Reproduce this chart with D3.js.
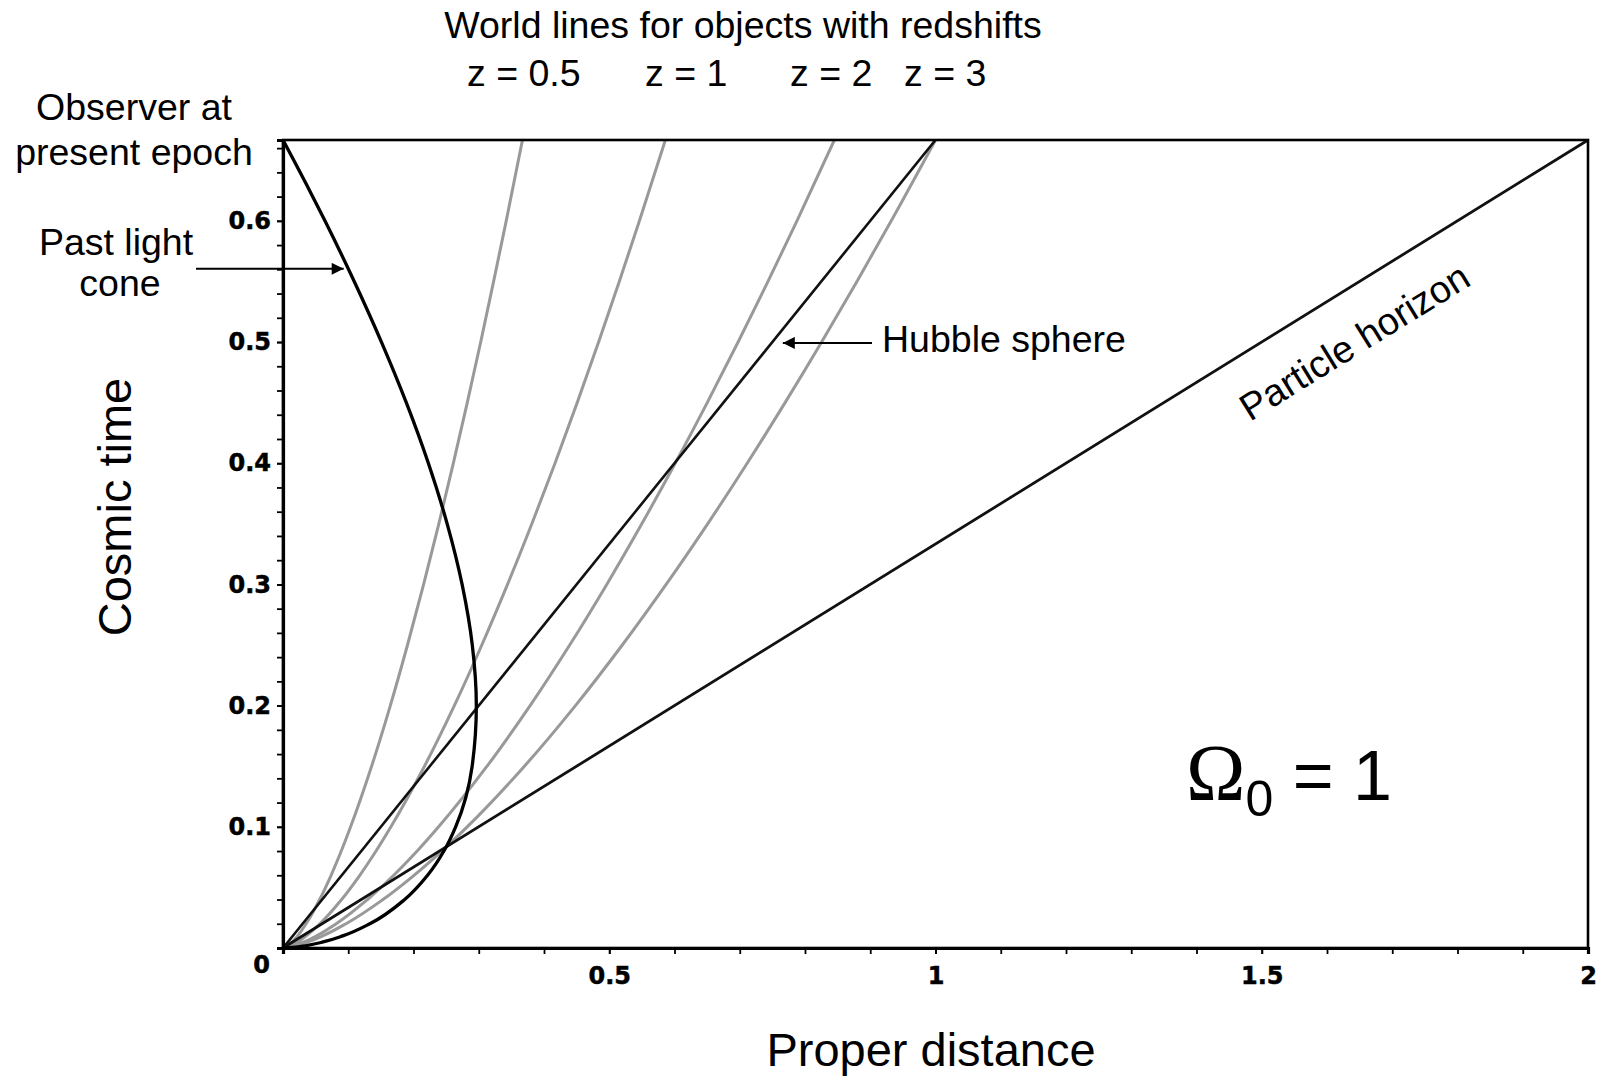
<!DOCTYPE html>
<html>
<head>
<meta charset="utf-8">
<script src="https://cdn.jsdelivr.net/npm/d3@7"></script>
<style>
  body { margin: 0; background: #fff; }
  text { font-family: "Liberation Sans", Arial, sans-serif; fill: #000; }
</style>
</head>
<body>
<div id="chart"></div>
<script>
// cosmic time samples (units of 1/H0) and proper distances
const timeGrid = [0, 0.005, 0.01, 0.02, 0.04, 0.06, 0.08, 0.1, 0.15, 0.2, 0.25, 0.3, 0.35, 0.4, 0.45, 0.5, 0.55, 0.6, 0.6667];
const distZ05 = [0, 0.0141, 0.0223, 0.0354, 0.0562, 0.0737, 0.0893, 0.1036, 0.1358, 0.1645, 0.1908, 0.2155, 0.2388, 0.2611, 0.2824, 0.303, 0.3228, 0.3421, 0.367];
const distZ1 = [0, 0.0224, 0.0356, 0.0565, 0.0898, 0.1177, 0.1426, 0.1654, 0.2168, 0.2626, 0.3047, 0.3441, 0.3814, 0.4169, 0.4509, 0.4837, 0.5154, 0.5463, 0.586];
const distZ2 = [0, 0.0324, 0.0514, 0.0815, 0.1295, 0.1697, 0.2056, 0.2385, 0.3127, 0.3787, 0.4394, 0.4962, 0.5499, 0.6011, 0.6502, 0.6975, 0.7433, 0.7877, 0.845];
const distZ3 = [0, 0.0383, 0.0608, 0.0965, 0.1532, 0.2008, 0.2433, 0.2823, 0.37, 0.4482, 0.52, 0.5872, 0.6508, 0.7114, 0.7695, 0.8255, 0.8796, 0.9322, 1];

const coneTime = [0, 0.001, 0.002, 0.005, 0.01, 0.02, 0.04, 0.06, 0.08, 0.1, 0.15, 0.2, 0.25, 0.3, 0.35, 0.4, 0.45, 0.5, 0.55, 0.6, 0.63, 0.65, 0.6667];
const coneDist = [0, 0.0232, 0.0356, 0.0616, 0.0916, 0.1331, 0.1865, 0.2216, 0.2466, 0.2646, 0.2899, 0.2963, 0.2901, 0.2745, 0.2516, 0.2228, 0.189, 0.1509, 0.1092, 0.0643, 0.036, 0.0165, 0];

const lineTime = [0, 0.6667];
const hubbleDist = [0, 1];
const horizonDist = [0, 2];

const redshiftLabels = ["z = 0.5", "z = 1", "z = 2", "z = 3"];
const xTickValues = [0.5, 1, 1.5, 2];
const yTickValues = [0.1, 0.2, 0.3, 0.4, 0.5, 0.6];

const W = 1599, H = 1077;
const plot = { left: 283, right: 1588, top: 140, bottom: 948 };
const tickFont = "'DejaVu Sans', Verdana, sans-serif";

const x = d3.scaleLinear().domain([0, 2]).range([plot.left, plot.right]);
const y = d3.scaleLinear().domain([0, 0.6667]).range([plot.bottom, plot.top]);

const svg = d3.select("#chart").append("svg")
  .attr("width", W).attr("height", H);

svg.append("defs").append("marker")
  .attr("id", "head")
  .attr("viewBox", "0 0 10 10")
  .attr("refX", 10).attr("refY", 5)
  .attr("markerUnits", "userSpaceOnUse")
  .attr("markerWidth", 16).attr("markerHeight", 12)
  .attr("orient", "auto")
  .append("path").attr("d", "M0,0L10,5L0,10Z").attr("fill", "#000");

svg.append("clipPath").attr("id", "clip")
  .append("rect")
  .attr("x", plot.left).attr("y", plot.top)
  .attr("width", plot.right - plot.left).attr("height", plot.bottom - plot.top);

const line = d3.line()
  .x(d => x(d[0]))
  .y(d => y(d[1]))
  .curve(d3.curveMonotoneY);

const zip = (ds, ts) => ds.map((d, i) => [d, ts[i]]);

const marks = svg.append("g").attr("clip-path", "url(#clip)");

// grey world lines
[distZ05, distZ1, distZ2, distZ3].forEach(ds => {
  marks.append("path")
    .attr("d", line(zip(ds, timeGrid)))
    .attr("fill", "none")
    .attr("stroke", "#999")
    .attr("stroke-width", 3);
});

// hubble sphere and particle horizon
marks.append("path")
  .attr("d", line(zip(hubbleDist, lineTime)))
  .attr("fill", "none").attr("stroke", "#111").attr("stroke-width", 2.6);
marks.append("path")
  .attr("d", line(zip(horizonDist, lineTime)))
  .attr("fill", "none").attr("stroke", "#111").attr("stroke-width", 2.8);

// past light cone
marks.append("path")
  .attr("d", line(zip(coneDist, coneTime)))
  .attr("fill", "none").attr("stroke", "#000").attr("stroke-width", 3.3);

// frame
svg.append("rect")
  .attr("x", plot.left).attr("y", plot.top)
  .attr("width", plot.right - plot.left).attr("height", plot.bottom - plot.top)
  .attr("fill", "none").attr("stroke", "#000").attr("stroke-width", 2.6);

// axes
const xMinor = d3.axisBottom(x).tickValues(d3.range(0, 2.001, 0.1)).tickSize(6).tickFormat("");
const yMinor = d3.axisLeft(y).tickValues(d3.range(0, 0.661, 0.02)).tickSize(6).tickFormat("");
svg.append("g").attr("transform", `translate(0,${plot.bottom})`).call(xMinor)
  .call(g => g.select(".domain").attr("stroke-width", 3.2));
svg.append("g").attr("transform", `translate(${plot.left},0)`).call(yMinor)
  .call(g => g.select(".domain").attr("stroke-width", 3.2));
svg.selectAll(".tick line").attr("stroke-width", 1.8);

const xAxis = d3.axisBottom(x).tickValues(xTickValues).tickSize(6).tickPadding(13).tickFormat(d3.format("~g"));
const yAxis = d3.axisLeft(y).tickValues(yTickValues).tickSize(6).tickPadding(6).tickFormat(d3.format("~g"));
const gx = svg.append("g").attr("transform", `translate(0,${plot.bottom})`).call(xAxis);
const gy = svg.append("g").attr("transform", `translate(${plot.left},0)`).call(yAxis);
[gx, gy].forEach(g => {
  g.select(".domain").remove();
  g.selectAll(".tick line").attr("stroke-width", 1.8);
  g.selectAll("text")
    .style("font-family", tickFont)
    .attr("font-size", 24).attr("font-weight", "bold").attr("fill", "#000")
    .attr("stroke", "#000").attr("stroke-width", 0.5);
});

svg.append("text")
  .attr("x", x(0) - 13).attr("y", y(0) + 25)
  .attr("text-anchor", "end")
  .style("font-family", tickFont)
  .attr("font-size", 24).attr("font-weight", "bold")
  .attr("stroke", "#000").attr("stroke-width", 0.5)
  .text("0");

// axis titles
svg.append("text")
  .attr("x", 931).attr("y", 1066)
  .attr("text-anchor", "middle").attr("font-size", 47)
  .text("Proper distance");
svg.append("text")
  .attr("transform", "translate(131,507) rotate(-90)")
  .attr("text-anchor", "middle").attr("font-size", 47)
  .text("Cosmic time");

// header
svg.append("text")
  .attr("x", 743).attr("y", 38)
  .attr("text-anchor", "middle").attr("font-size", 37.5)
  .text("World lines for objects with redshifts");
const zLabelX = [467, 645, 790, 904];
redshiftLabels.forEach((s, i) => {
  svg.append("text")
    .attr("x", zLabelX[i]).attr("y", 86)
    .attr("font-size", 37.5)
    .text(s);
});

// left annotations
svg.append("text").attr("x", 134).attr("y", 120)
  .attr("text-anchor", "middle").attr("font-size", 37.5).text("Observer at");
svg.append("text").attr("x", 134).attr("y", 165)
  .attr("text-anchor", "middle").attr("font-size", 37.5).text("present epoch");
svg.append("text").attr("x", 116).attr("y", 255)
  .attr("text-anchor", "middle").attr("font-size", 37.5).text("Past light");
svg.append("text").attr("x", 120).attr("y", 296)
  .attr("text-anchor", "middle").attr("font-size", 37.5).text("cone");

svg.append("line")
  .attr("x1", 196).attr("y1", y(0.5604))
  .attr("x2", x(0.093)).attr("y2", y(0.5604))
  .attr("stroke", "#000").attr("stroke-width", 2)
  .attr("marker-end", "url(#head)");

// hubble sphere label
svg.append("line")
  .attr("x1", 872).attr("y1", y(0.4993))
  .attr("x2", x(0.766)).attr("y2", y(0.4993))
  .attr("stroke", "#000").attr("stroke-width", 2)
  .attr("marker-end", "url(#head)");
svg.append("text").attr("x", 882).attr("y", 352)
  .attr("font-size", 37.5).text("Hubble sphere");

// particle horizon label, along the line
const ang = Math.atan2(y(0) - y(0.6667), x(2) - x(0)) * 180 / Math.PI;
svg.append("text")
  .attr("transform", `translate(1250,422) rotate(${-ang})`)
  .attr("font-size", 38)
  .text("Particle horizon");

// omega label
const om = svg.append("text").attr("x", 1186).attr("y", 800);
om.append("tspan")
  .attr("font-family", "'Liberation Serif', 'Times New Roman', serif")
  .attr("font-size", 80).text("Ω");
om.append("tspan").attr("font-size", 50).attr("dy", 16).text("0");
om.append("tspan").attr("font-size", 70).attr("dy", -16).text(" = 1");
</script>
</body>
</html>
